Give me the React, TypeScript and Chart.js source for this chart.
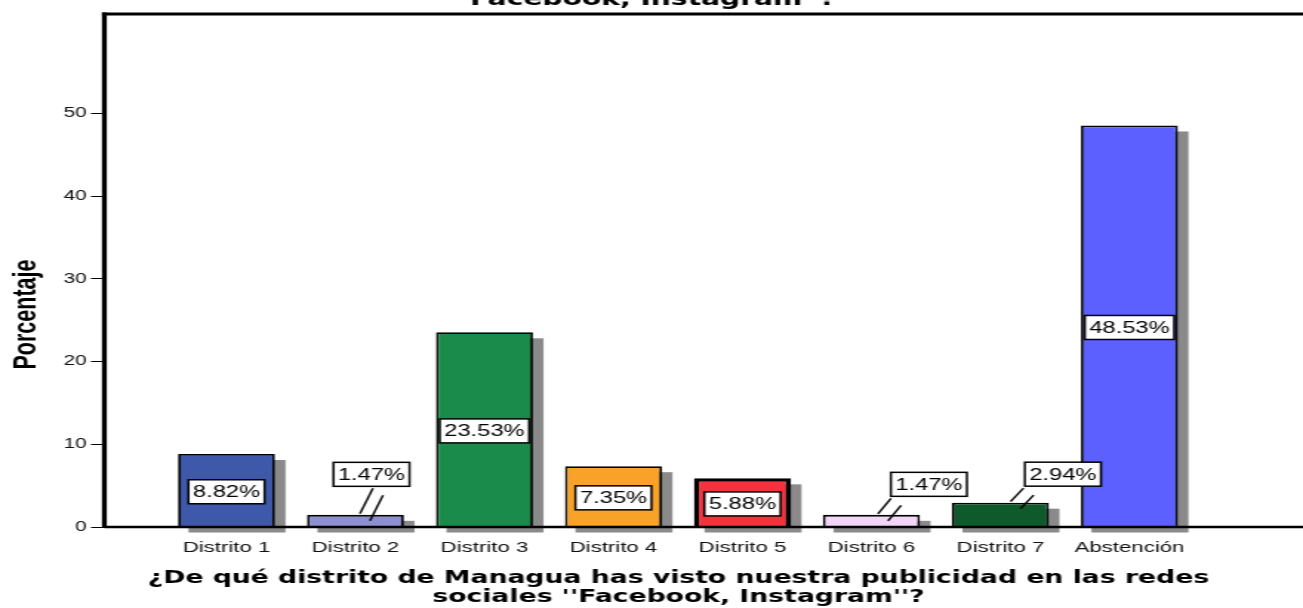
import React, { useEffect, useRef } from 'react';
import { Chart, registerables } from 'chart.js';

Chart.register(...registerables);

// ---- data ----
const categories = ['Distrito 1', 'Distrito 2', 'Distrito 3', 'Distrito 4', 'Distrito 5', 'Distrito 6', 'Distrito 7', 'Abstención'];
const percentages = [8.82, 1.47, 23.53, 7.35, 5.88, 1.47, 2.94, 48.53];
const yTickValues = [0, 10, 20, 30, 40, 50];
const titleLines = ["¿De qué distrito de Managua has visto nuestra publicidad en las redes sociales ''", "Facebook, Instagram''?"];
const xTitleLines = ['¿De qué distrito de Managua has visto nuestra publicidad en las redes', "sociales ''Facebook, Instagram''?"];
const yTitle = 'Porcentaje';

// ---- styles ----
const barColors = ['#3e59aa', '#8c8fd0', '#1b8b4b', '#f8a229', '#f1333c', '#f3d5f8', '#0e5a2b', '#5b60ff'];
const barBorderWidths = [1.8, 1.8, 1.8, 1.8, 3.5, 1.8, 1.8, 1.8];
const SANS = "'Liberation Sans', Arial, sans-serif";
const WIDE = "'DejaVu Sans', Verdana, sans-serif";
const CANVAS_W = 880;
const CANVAS_H = 648;
const TOP_SHIFT = 40;
const STRETCH = 1303 / CANVAS_W;

// label placement for the thin bars (callouts)
const calloutOffsets: Record<number, { dx: number; dy: number; sx: number }> = {
  1: { dx: 10.8, dy: -40.5, sx: 3.0 },
  5: { dx: 38.8, dy: -30.5, sx: 4.4 },
  6: { dx: 42.2, dy: -28.5, sx: 6.8 },
};

const shadowPlugin = {
  id: 'barShadow',
  beforeDatasetsDraw(chart: any) {
    const ctx = chart.ctx;
    const meta = chart.getDatasetMeta(0);
    ctx.save();
    ctx.fillStyle = '#8a8a8a';
    meta.data.forEach((el: any) => {
      const { x, y, base, width } = el.getProps(['x', 'y', 'base', 'width'], true);
      ctx.fillRect(x - width / 2 + 7.1, y + 6, width, base - y);
    });
    ctx.restore();
  },
};

const framePlugin = {
  id: 'frame',
  afterDatasetsDraw(chart: any) {
    const ctx = chart.ctx;
    const { left, top, bottom } = chart.chartArea;
    ctx.save();
    ctx.strokeStyle = '#000';
    ctx.lineCap = 'butt';
    ctx.lineWidth = 3;
    ctx.beginPath();
    ctx.moveTo(left - 1.6, top);
    ctx.lineTo(chart.width, top);
    ctx.stroke();
    ctx.lineWidth = 2.3;
    ctx.beginPath();
    ctx.moveTo(left, bottom);
    ctx.lineTo(chart.width, bottom);
    ctx.stroke();
    ctx.lineWidth = 3.2;
    ctx.beginPath();
    ctx.moveTo(left, top - 1.5);
    ctx.lineTo(left, bottom + 1.1);
    ctx.stroke();

    // chart title (top, mostly cropped)
    ctx.font = `bold 19px ${WIDE}`;
    ctx.fillStyle = '#000';
    ctx.textAlign = 'center';
    ctx.textBaseline = 'middle';
    const tx = 653 / STRETCH;
    titleLines.forEach((line, i) => {
      ctx.fillText(line, tx, 40.1 - (titleLines.length - 1 - i) * 22.8);
    });

    // y axis title
    ctx.translate(23.6, (top + bottom) / 2 + 44);
    ctx.rotate(-Math.PI / 2);
    ctx.font = `bold 21.5px ${SANS}`;
    ctx.textAlign = 'center';
    ctx.textBaseline = 'alphabetic';
    ctx.fillText(yTitle, 0, 0);
    ctx.restore();
  },
};

const labelPlugin = {
  id: 'valueLabels',
  afterDatasetsDraw(chart: any) {
    const ctx = chart.ctx;
    const meta = chart.getDatasetMeta(0);
    ctx.save();
    ctx.font = `16px ${SANS}`;
    meta.data.forEach((el: any, i: number) => {
      const { x, y, base } = el.getProps(['x', 'y', 'base'], true);
      const text = percentages[i].toFixed(2) + '%';
      const tw = ctx.measureText(text).width;
      const bw = tw + 6;
      const bh = 24;
      const off = calloutOffsets[i];
      let cx: number;
      let cy: number;
      if (off) {
        cx = x + off.dx;
        cy = y + off.dy;
        const boxBottom = cy + bh / 2;
        ctx.strokeStyle = '#000';
        ctx.lineWidth = 1.4;
        ctx.beginPath();
        ctx.moveTo(x + off.sx, y - 1);
        ctx.lineTo(x + off.sx + 8.8, boxBottom + 2);
        ctx.moveTo(x + off.sx + 6.8, y + 6);
        ctx.lineTo(x + off.sx + 15.6, boxBottom + 9);
        ctx.stroke();
      } else {
        cx = x;
        cy = (y + base) / 2 + 1.5;
      }
      ctx.fillStyle = '#fff';
      ctx.fillRect(cx - bw / 2, cy - bh / 2, bw, bh);
      ctx.strokeStyle = '#000';
      ctx.lineWidth = 1.5;
      ctx.strokeRect(cx - bw / 2, cy - bh / 2, bw, bh);
      ctx.fillStyle = '#000';
      ctx.textAlign = 'center';
      ctx.textBaseline = 'middle';
      ctx.fillText(text, cx, cy + 1);
    });
    ctx.restore();
  },
};

export default function App() {
  const canvasRef = useRef<HTMLCanvasElement | null>(null);

  useEffect(() => {
    if (!canvasRef.current) return;
    const chart = new Chart(canvasRef.current, {
      type: 'bar',
      data: {
        datasets: [
          {
            data: percentages.map((v, i) => ({ x: i, y: v })) as any,
            backgroundColor: barColors,
            borderColor: '#000',
            borderWidth: barBorderWidths,
            borderSkipped: 'start',
            barPercentage: 0.752,
            categoryPercentage: 1,
          },
        ],
      },
      options: {
        animation: false,
        responsive: true,
        maintainAspectRatio: false,
        devicePixelRatio: 1,
        layout: { padding: { left: 0, right: 34.1, top: 54, bottom: 0 } },
        plugins: {
          legend: { display: false },
          tooltip: { enabled: false },
          title: { display: false },
        },
        scales: {
          x: {
            type: 'linear',
            min: -0.9466,
            max: 7.954,
            offset: false,
            z: 1,
            afterBuildTicks: (s: any) => {
              s.ticks = categories.map((_, i) => ({ value: i }));
            },
            afterFit: (s: any) => {
              s.height = 81;
            },
            ticks: {
              autoSkip: false,
              maxRotation: 0,
              minRotation: 0,
              padding: 8,
              color: '#111',
              font: { family: SANS, size: 15 },
              callback: (v: any) => categories[Math.round(Number(v))] ?? '',
            },
            grid: { display: true, drawOnChartArea: false, drawTicks: true, tickLength: 4, color: '#222', offset: false },
            border: { display: false },
            title: {
              display: true,
              text: xTitleLines,
              color: '#000',
              font: { family: WIDE, size: 18, weight: 'bold', lineHeight: 1.055 },
              padding: { top: 0, bottom: 0.7 },
            },
          },
          y: {
            type: 'linear',
            min: 0,
            max: 62,
            afterBuildTicks: (s: any) => {
              s.ticks = yTickValues.map((v) => ({ value: v }));
            },
            afterFit: (s: any) => {
              s.width = 70.5;
            },
            ticks: { padding: 3, color: '#111', font: { family: SANS, size: 14 } },
            grid: { display: true, drawOnChartArea: false, drawTicks: true, tickLength: 9, color: '#000', lineWidth: 1 },
            border: { display: false },
          },
        },
      } as any,
      plugins: [shadowPlugin, framePlugin, labelPlugin],
    });
    return () => chart.destroy();
  }, []);

  return (
    <div
      style={{
        position: 'fixed',
        left: 0,
        top: -TOP_SHIFT,
        width: CANVAS_W,
        height: CANVAS_H,
        transform: `scaleX(${STRETCH})`,
        transformOrigin: '0 0',
        background: '#fff',
      }}
    >
      <canvas ref={canvasRef} />
    </div>
  );
}
